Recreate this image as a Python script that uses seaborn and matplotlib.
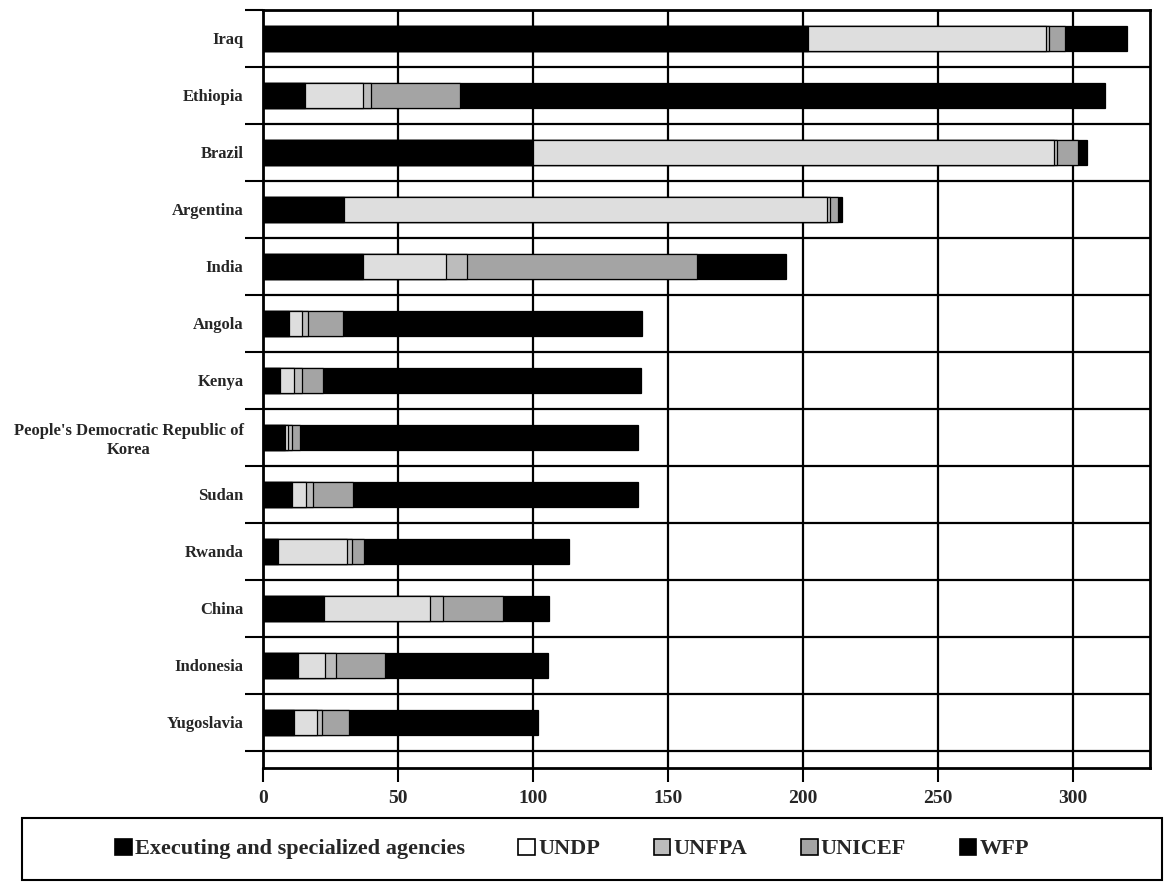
import numpy as np
import pandas as pd
import matplotlib
matplotlib.use("Agg")
import matplotlib.pyplot as plt
from matplotlib.patches import Patch, Rectangle
import seaborn as sns

# ---------------- data ----------------
countries = ["Iraq", "Ethiopia", "Brazil", "Argentina", "India", "Angola", "Kenya",
             "People's Democratic Republic of\nKorea", "Sudan", "Rwanda", "China",
             "Indonesia", "Yugoslavia"]
executing = [202, 15.5, 100, 30, 37, 9.5, 6.3, 8.0, 10.7, 5.6, 22.6, 12.8, 11.5]
undp      = [88, 21.5, 193, 179, 30.7, 5.0, 5.3, 1.3, 5.3, 25.4, 39.4, 10.2, 8.5]
unfpa     = [1.0, 3.0, 1.0, 1.0, 8.0, 2.0, 3.0, 1.3, 2.5, 2.0, 4.7, 4.0, 1.7]
unicef    = [6.0, 33.0, 8.0, 3.0, 85.0, 13.0, 7.5, 3.0, 15.0, 4.4, 22.3, 18.0, 10.3]
wfp       = [23.0, 239.0, 3.0, 1.5, 33.0, 111.0, 118.0, 125.3, 105.3, 76.0, 17.0, 60.6, 70.0]

series_names = ["Executing and specialized agencies", "UNDP", "UNFPA", "UNICEF", "WFP"]
series_vals = [executing, undp, unfpa, unicef, wfp]
series_colors = ["#000000", "#dedede", "#bcbcbc", "#a4a4a4", "#000000"]
x_ticks = [0, 50, 100, 150, 200, 250, 300]

# ---------------- figure ----------------
sns.set_theme(style="white")
plt.rcParams["font.family"] = ["Liberation Serif", "DejaVu Serif"]
plt.rcParams["font.weight"] = "bold"

fig = plt.figure(figsize=(11.68, 8.85), dpi=100)
ax = fig.add_axes([263 / 1168, 1 - 768 / 885, (1150 - 263) / 1168, (768 - 10) / 885])

df = pd.DataFrame({"country": countries})
cum = np.zeros(len(countries))
cums = []
for vals in series_vals:
    cum = cum + np.array(vals)
    cums.append(cum.copy())

# draw from the total downwards so each segment shows
for i in range(len(series_vals) - 1, -1, -1):
    df["v"] = cums[i]
    sns.barplot(data=df, x="v", y="country", orient="h", color=series_colors[i],
                saturation=1, width=0.45, edgecolor="black", linewidth=0.9,
                errorbar=None, ax=ax)

ax.set_xlim(0, 328.5)
ax.set_ylim(12.8, -0.5)
ax.set_xlabel("")
ax.set_ylabel("")

# ticks & grid
ax.set_xticks(x_ticks)
ax.set_xticklabels([str(t) for t in x_ticks], fontsize=14, fontweight="bold")
ax.tick_params(axis="x", which="major", length=10, width=1.5, direction="out",
               color="black", pad=6, bottom=True)
ax.set_yticks(np.arange(len(countries)))
ax.set_yticklabels(countries, fontsize=12, fontweight="bold", multialignment="center")
ax.tick_params(axis="y", which="major", length=0, pad=14)
ax.set_yticks(np.arange(-0.5, len(countries)), minor=True)
ax.tick_params(axis="y", which="minor", length=13, width=1.5, direction="out",
               color="black", left=True)
ax.grid(False)
ax.xaxis.grid(True, which="major", color="black", linewidth=1.6)
ax.yaxis.grid(True, which="minor", color="black", linewidth=1.6)
ax.set_axisbelow(True)
for s in ax.spines.values():
    s.set_visible(True)
    s.set_color("black")
    s.set_linewidth(2.0)

# legend box
fig.patches.append(Rectangle((22 / 1168, 1 - 880 / 885), 1140 / 1168, 62 / 885,
                             transform=fig.transFigure, fill=False,
                             edgecolor="black", linewidth=1.5))
handles = [Patch(facecolor=("white" if c == "#dedede" else c), edgecolor="black", linewidth=1.2)
           for c in series_colors]
fig.legend(handles, series_names, loc="center left",
           bbox_to_anchor=(104 / 1168, 1 - 849 / 885), ncol=5, frameon=False,
           prop={"family": "Liberation Serif", "weight": "bold", "size": 16},
           handlelength=0.75, handleheight=0.75, handletextpad=0.15,
           columnspacing=2.4, borderpad=0)

fig.savefig("out.png", dpi=100)
